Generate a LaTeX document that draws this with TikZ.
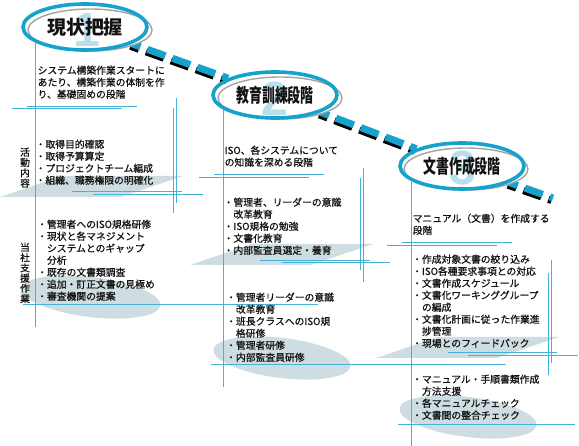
\documentclass[tikz,border=0pt]{standalone}
\usepackage{fontspec}
\newfontfamily\jp{Noto Sans CJK JP}
\newfontfamily\jpbody{Noto Sans CJK JP}[FakeBold=0.7]
\newfontfamily\numfont{Liberation Sans}
\usetikzlibrary{shapes.geometric,backgrounds}
\definecolor{Ink}{HTML}{111111}
\definecolor{RingBlue}{HTML}{17A2CB}
\definecolor{RuleBlue}{HTML}{45B2D8}
\definecolor{Backdrop}{HTML}{CEDDE1}
\definecolor{NumBlue}{HTML}{B8DFEC}
\definecolor{RingGray}{HTML}{A3A3A3}

\begin{document}
\begin{tikzpicture}[x=1pt,y=-1pt,
  phase/.style={ellipse,draw=RingBlue,line width=3.6pt,minimum width=124pt,minimum height=46pt,inner sep=0pt,text=Ink,font=\jp\bfseries\fontsize{19}{19}\selectfont},
  halo/.style={ellipse,draw=RingGray,line width=1.4pt,fill=white,minimum width=124pt,minimum height=42pt,inner sep=0pt},
  phasenum/.style={font=\numfont\bfseries\fontsize{48}{48}\selectfont,text=NumBlue,inner sep=0pt},
  txt/.style={anchor=north west,inner sep=0pt,align=left,font=\jpbody\fontsize{9.8}{12}\selectfont,text=Ink},
  vlabel/.style={anchor=north,inner sep=0pt,align=center,font=\jpbody\fontsize{9.8}{10.3}\selectfont,text=Ink},
  rule/.style={draw=RuleBlue,line width=0.9pt},
  backdrop/.style={fill=Backdrop},
  flow/.style={draw=RingBlue,line width=7pt,dash pattern=on 19pt off 7.5pt,dash phase=10pt},
  flowshadow/.style={flow,draw=black,transform canvas={shift={(-1.5pt,-2.5pt)}}}]
\useasboundingbox (0,0) rectangle (579,446);

% grey backdrops
\fill[backdrop] (0,197) -- (62,176) -- (183,176) -- (121,197) -- cycle;
\fill[backdrop] (190,265) -- (252,244) -- (373,244) -- (311,265) -- cycle;
\fill[backdrop] (376,358) -- (438,337) -- (559,337) -- (497,358) -- cycle;
\fill[backdrop,rotate around={-7:(91,297)}] (91,297) ellipse [x radius=70,y radius=20];
\fill[backdrop,rotate around={-7:(282,358)}] (282,358) ellipse [x radius=69,y radius=20];
\fill[backdrop,rotate around={-7:(468,417)}] (468,417) ellipse [x radius=69,y radius=20];

% thin rules
\draw[rule] (35,43) -- (35,327);
\draw[rule] (223,110) -- (223,387);
\draw[rule] (411,182) -- (411,446);
\draw[rule] (173,108) -- (173,213);
\draw[rule] (176,98) -- (176,203);
\draw[rule] (360,178) -- (360,270);
\draw[rule] (363,168) -- (363,282);
\draw[rule] (551,260) -- (551,363);
\draw[rule] (548,273) -- (548,375);
\draw[rule] (27,106) -- (137,106);
\draw[rule] (12,108) -- (122,108);
\draw[rule] (214,174) -- (324,174);
\draw[rule] (199,177) -- (309,177);
\draw[rule] (402,242) -- (512,242);
\draw[rule] (387,245) -- (497,245);
\draw[rule] (72,191) -- (182,191);
\draw[rule] (93,194) -- (203,194);
\draw[rule] (260,260) -- (370,260);
\draw[rule] (282,262) -- (390,262);
\draw[rule] (448,352) -- (557,352);
\draw[rule] (468,355) -- (578,355);
\draw[rule] (23,304) -- (318,304);
\draw[rule] (211,364) -- (506,364);
\draw[rule] (398,424) -- (575,424);

% phases
\node[halo] (halo1) at (90,30) {};
\node[phasenum] (num1) at (87,30) {1};
\node[phase] (ph1) at (85,27) {現状把握};
\node[halo] (halo2) at (280,98) {};
\node[phasenum] (num2) at (275,99) {2};
\node[phase] (ph2) at (275,95) {\scalebox{0.68}[1]{教育訓練段階}};
\node[halo] (halo3) at (466,169) {};
\node[phasenum] (num3) at (463,168) {3};
\node[phase] (ph3) at (462,166) {\scalebox{0.68}[1]{文書作成段階}};
\coordinate (tail) at (553,198);

\begin{scope}[on background layer]
\draw[flowshadow] (ph1) -- (ph2);
\draw[flowshadow] (ph2) -- (ph3);
\draw[flowshadow] (ph3) -- (tail);
\draw[flow] (ph1) -- (ph2);
\draw[flow] (ph2) -- (ph3);
\draw[flow] (ph3) -- (tail);
\end{scope}

% row labels
\node[vlabel] (lab1) at (25,147.5) {活\\動\\内\\容};
\node[vlabel] (lab2) at (25,242.5) {当\\社\\支\\援\\作\\業};

% phase 1
\node[txt] (desc1) at (37.5,65.5) {システム構築作業スタートに\\あたり、構築作業の体制を作\\り、基礎固めの段階};
\node[txt] (act1) at (35.5,139.5) {・取得目的確認\\・取得予算算定\\・プロジェクトチーム編成\\・組織、職務権限の明確化};
\node[txt] (sup1) at (37,219.5) {・管理者へのISO規格研修\\・現状と各マネジメント\\　システムとのギャップ\\　分析\\・既存の文書類調査\\・追加・訂正文書の見極め\\・審査機関の提案};

% phase 2
\node[txt] (desc2) at (224.5,145.5) {ISO、各システムについて\\の知識を深める段階};
\node[txt] (act2) at (223.5,197.5) {・管理者、リーダーの意識\\　改革教育\\・ISO規格の勉強\\・文書化教育\\・内部監査員選定・養育};
\node[txt] (sup2) at (226,292.5) {・管理者リーダーの意識\\　改革教育\\・班長クラスへのISO規\\　格研修\\・管理者研修\\・内部監査員研修};

% phase 3
\node[txt] (desc3) at (412.5,213.5) {マニュアル（文書）を作成する\\段階};
\node[txt] (act3) at (412,254.5) {・作成対象文書の絞り込み\\・ISO各種要求事項との対応\\・文書作成スケジュール\\・文書化ワーキンググループ\\　の編成\\・文書化計画に従った作業進\\　捗管理\\・現場とのフィードバック};
\node[txt] (sup3) at (412,374.5) {・マニュアル・手順書類作成\\　方法支援\\・各マニュアルチェック\\・文書間の整合チェック};
\end{tikzpicture}
\end{document}
